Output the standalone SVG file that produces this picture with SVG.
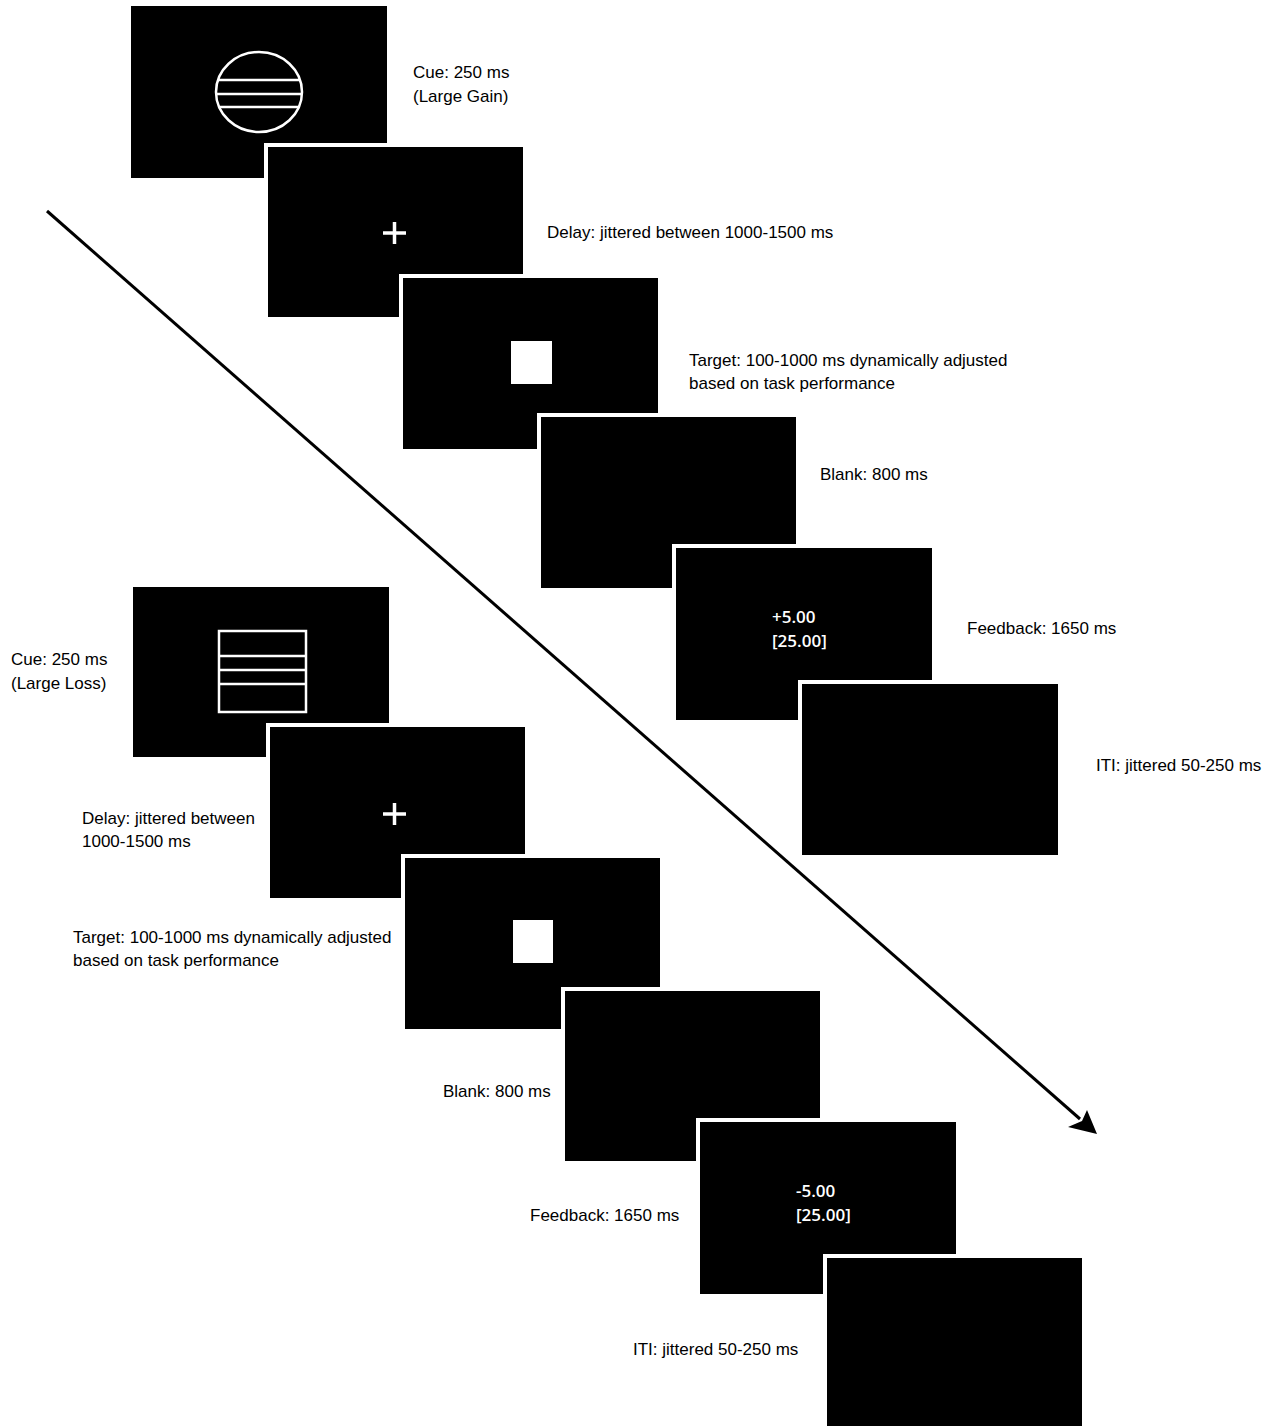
<svg xmlns="http://www.w3.org/2000/svg" width="1272" height="1426" viewBox="0 0 1272 1426">
<style>
.scr{fill:#000;stroke:#fff;stroke-width:8;paint-order:stroke}
.lbl{font-family:"Liberation Sans",Arial,sans-serif;font-size:17px;fill:#000}
.fb{font-family:"Open Sans","Noto Sans",sans-serif;font-weight:600;font-size:17px;fill:#fff}
.icon{fill:none;stroke:#fff;stroke-width:2.5}
.plus{stroke:#fff;stroke-width:3.5}
</style>
<rect width="1272" height="1426" fill="#fff"/>
<g id="connectors">
<line x1="47" y1="211" x2="1080" y2="1119" stroke="#000" stroke-width="3"/>
<polygon points="1097,1134 1068,1127 1082,1121 1087,1110" fill="#000"/>
</g>
<g id="gain-cue">
<rect x="131" y="6" width="256" height="172" fill="#000"/>
<ellipse cx="259" cy="92" rx="43" ry="40" class="icon"/>
<line x1="218" y1="80" x2="300" y2="80" class="icon"/>
<line x1="216" y1="94" x2="302" y2="94" class="icon"/>
<line x1="219" y1="107" x2="299" y2="107" class="icon"/>
<text class="lbl" x="413" y="78">Cue: 250 ms</text>
<text class="lbl" x="413" y="102">(Large Gain)</text>
</g>
<g id="gain-delay">
<rect x="268" y="147" width="255" height="170" class="scr"/>
<line x1="383" y1="233" x2="406" y2="233" class="plus"/>
<line x1="394.5" y1="222" x2="394.5" y2="244" class="plus"/>
<text class="lbl" x="547" y="238">Delay: jittered between 1000-1500 ms</text>
</g>
<g id="gain-target">
<rect x="403" y="278" width="255" height="171" class="scr"/>
<rect x="511" y="341" width="41" height="43" fill="#fff"/>
<text class="lbl" x="689" y="366">Target: 100-1000 ms dynamically adjusted</text>
<text class="lbl" x="689" y="389">based on task performance</text>
</g>
<g id="gain-blank">
<rect x="541" y="417" width="255" height="171" class="scr"/>
<text class="lbl" x="820" y="480">Blank: 800 ms</text>
</g>
<g id="gain-feedback">
<rect x="676" y="548" width="256" height="172" class="scr"/>
<text class="fb" x="772" y="623">+5.00</text>
<text class="fb" x="772" y="647">[25.00]</text>
<text class="lbl" x="967" y="634">Feedback: 1650 ms</text>
</g>
<g id="gain-iti">
<rect x="802" y="684" width="256" height="171" class="scr"/>
<text class="lbl" x="1096" y="771">ITI: jittered 50-250 ms</text>
</g>
<g id="loss-cue">
<rect x="133" y="587" width="256" height="170" fill="#000"/>
<rect x="219" y="631" width="87" height="81" class="icon"/>
<line x1="219" y1="656" x2="306" y2="656" class="icon"/>
<line x1="219" y1="670" x2="306" y2="670" class="icon"/>
<line x1="219" y1="684" x2="306" y2="684" class="icon"/>
<text class="lbl" x="11" y="665">Cue: 250 ms</text>
<text class="lbl" x="11" y="689">(Large Loss)</text>
</g>
<g id="loss-delay">
<rect x="270" y="727" width="255" height="171" class="scr"/>
<line x1="383" y1="814" x2="406" y2="814" class="plus"/>
<line x1="394.5" y1="803" x2="394.5" y2="825" class="plus"/>
<text class="lbl" x="82" y="824">Delay: jittered between</text>
<text class="lbl" x="82" y="847">1000-1500 ms</text>
</g>
<g id="loss-target">
<rect x="405" y="858" width="255" height="171" class="scr"/>
<rect x="513" y="920" width="40" height="43" fill="#fff"/>
<text class="lbl" x="73" y="943">Target: 100-1000 ms dynamically adjusted</text>
<text class="lbl" x="73" y="966">based on task performance</text>
</g>
<g id="loss-blank">
<rect x="565" y="991" width="255" height="170" class="scr"/>
<text class="lbl" x="443" y="1097">Blank: 800 ms</text>
</g>
<g id="loss-feedback">
<rect x="700" y="1122" width="256" height="172" class="scr"/>
<text class="fb" x="796" y="1197">-5.00</text>
<text class="fb" x="796" y="1221">[25.00]</text>
<text class="lbl" x="530" y="1221">Feedback: 1650 ms</text>
</g>
<g id="loss-iti">
<rect x="827" y="1258" width="255" height="172" class="scr"/>
<text class="lbl" x="633" y="1355">ITI: jittered 50-250 ms</text>
</g>
</svg>
